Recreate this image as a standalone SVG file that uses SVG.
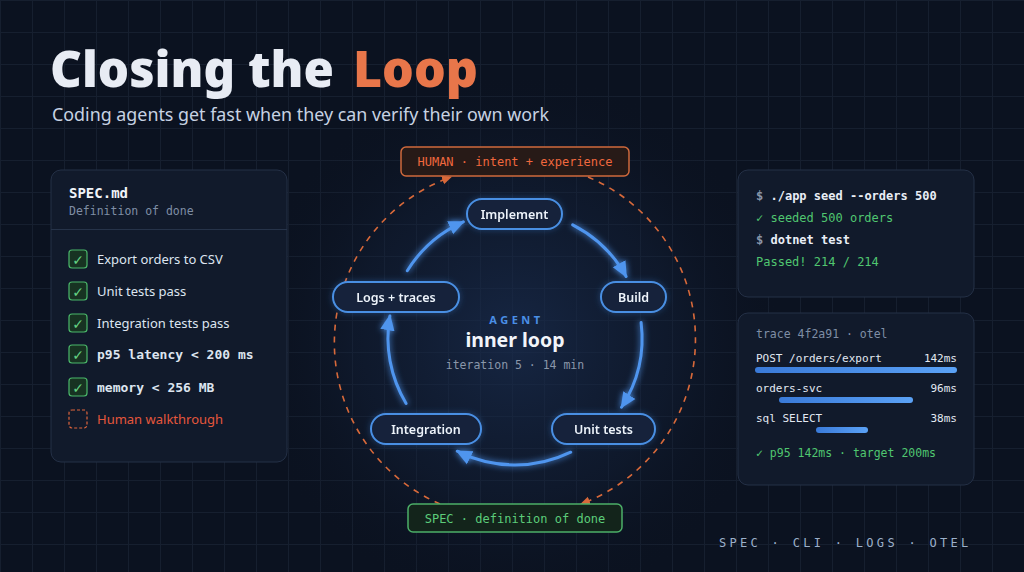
<svg xmlns="http://www.w3.org/2000/svg" width="1024" height="572" viewBox="0 0 1024 572">
<defs>
<style>
.mono{font-family:"DejaVu Sans Mono","Liberation Mono",monospace}
.sans{font-family:"Noto Sans","Open Sans","Liberation Sans",sans-serif}
.panel{fill:#111a2b;stroke:#243046;stroke-width:1}
.pill{fill:#12213b;stroke:#4a8fe3;stroke-width:2}
.plabel{font-family:"Noto Sans","Open Sans",sans-serif;font-size:12.5px;font-weight:600;fill:#eef3fa;text-anchor:middle}
.flow{fill:none;stroke:#4f95ee;stroke-width:3;stroke-linecap:round}
.hl{fill:none;stroke:#d8693a;stroke-width:1.6;stroke-dasharray:6 6}
.chk{fill:#173322;stroke:#4bb86a;stroke-width:1.2}
.tick{font-family:"DejaVu Sans","Noto Sans",sans-serif;font-size:14px;font-weight:bold;fill:#63d183;text-anchor:middle}
.item{font-family:"Noto Sans","Open Sans",sans-serif;font-size:13px;fill:#dde5f0}
.itemm{font-family:"DejaVu Sans Mono","Liberation Mono",monospace;font-size:13px;font-weight:bold;fill:#dde5f0}
.term{font-family:"DejaVu Sans Mono","Liberation Mono",monospace;font-size:12px;font-weight:bold;fill:#e9eef6}
.green{fill:#50c670}
.trow{font-family:"DejaVu Sans Mono","Liberation Mono",monospace;font-size:11px;fill:#e3e9f2}
</style>
<pattern id="grid" width="32" height="32" patternUnits="userSpaceOnUse">
<path d="M0 0.5H32M0.5 0V32" stroke="#161f2f" stroke-width="1" fill="none"/>
</pattern>
<radialGradient id="glowbg" cx="515" cy="340" r="270" gradientUnits="userSpaceOnUse">
<stop offset="0" stop-color="#1a2d4f" stop-opacity="0.75"/>
<stop offset="0.6" stop-color="#15243f" stop-opacity="0.35"/>
<stop offset="1" stop-color="#0b1220" stop-opacity="0"/>
</radialGradient>
<linearGradient id="bar" x1="0" y1="0" x2="1" y2="0">
<stop offset="0" stop-color="#3a7ad8"/>
<stop offset="1" stop-color="#5ba2f6"/>
</linearGradient>
<filter id="glow" x="-30%" y="-30%" width="160%" height="160%">
<feGaussianBlur in="SourceGraphic" stdDeviation="3" result="b"/>
<feMerge><feMergeNode in="b"/><feMergeNode in="SourceGraphic"/></feMerge>
</filter>
<filter id="softglow" x="-20%" y="-40%" width="140%" height="180%">
<feGaussianBlur in="SourceAlpha" stdDeviation="3" result="a"/>
<feFlood flood-color="#3f86e0" flood-opacity="0.35"/>
<feComposite in2="a" operator="in" result="g"/>
<feMerge><feMergeNode in="g"/><feMergeNode in="SourceGraphic"/></feMerge>
</filter>
<marker id="ab" viewBox="0 0 10 10" refX="9" refY="5" markerWidth="16" markerHeight="16" markerUnits="userSpaceOnUse" orient="auto">
<path d="M0,0.5 L10,5 L0,9.5 z" fill="#4f95ee"/>
</marker>
<marker id="ao" viewBox="0 0 10 10" refX="9" refY="5" markerWidth="10" markerHeight="10" markerUnits="userSpaceOnUse" orient="auto">
<path d="M0,0.5 L10,5 L0,9.5 z" fill="#d8693a"/>
</marker>
</defs>

<rect width="1024" height="572" fill="#0b1220"/>
<rect width="1024" height="572" fill="url(#grid)"/>
<rect width="1024" height="572" fill="url(#glowbg)"/>

<g id="title">
<text x="50" y="87" class="sans" font-size="50" font-weight="900" fill="#e8ecf4" textLength="284" lengthAdjust="spacingAndGlyphs">Closing the</text>
<text x="353" y="87" class="sans" font-size="50" font-weight="900" fill="#e8764a" textLength="125" lengthAdjust="spacingAndGlyphs">Loop</text>
<text x="52" y="121" class="sans" font-size="18" fill="#c7d2e3" textLength="497" lengthAdjust="spacingAndGlyphs">Coding agents get fast when they can verify their own work</text>
</g>

<g id="connectors">
<path class="hl" d="M440 504 A176 176 0 0 1 451 177" marker-end="url(#ao)"/>
<path class="hl" d="M588 177 A176 176 0 0 1 581 504" marker-end="url(#ao)"/>
<g filter="url(#glow)">
<path class="flow" d="M407.3 270.7 A127 127 0 0 1 463.3 221.9" marker-end="url(#ab)"/>
<path class="flow" d="M572.7 224.8 A127 127 0 0 1 626.1 276.4" marker-end="url(#ab)"/>
<path class="flow" d="M641.1 322.5 A127 127 0 0 1 621.5 407.2" marker-end="url(#ab)"/>
<path class="flow" d="M570.7 452.2 A127 127 0 0 1 457.3 451.2" marker-end="url(#ab)"/>
<path class="flow" d="M406.1 403.4 A127 127 0 0 1 389.9 315.9" marker-end="url(#ab)"/>
</g>
</g>

<g id="human">
<rect x="401" y="147" width="228" height="29" rx="5" fill="#271a17" stroke="#d0693c" stroke-width="1.5"/>
<text x="515" y="166" class="mono" font-size="12" fill="#f0683e" text-anchor="middle">HUMAN · intent + experience</text>
</g>
<g id="spec">
<rect x="408" y="504" width="214" height="28" rx="5" fill="#13241b" stroke="#4caf68" stroke-width="1.5"/>
<text x="515" y="522.5" class="mono" font-size="12" fill="#5ccc7a" text-anchor="middle">SPEC · definition of done</text>
</g>

<g id="implement" filter="url(#softglow)">
<rect class="pill" x="467" y="199" width="95" height="30" rx="15"/>
<text class="plabel" x="514.5" y="218.5">Implement</text>
</g>
<g id="build" filter="url(#softglow)">
<rect class="pill" x="601" y="282" width="65" height="30" rx="15"/>
<text class="plabel" x="633.5" y="301.5">Build</text>
</g>
<g id="unit-tests" filter="url(#softglow)">
<rect class="pill" x="552" y="414" width="103" height="30" rx="15"/>
<text class="plabel" x="603.5" y="433.5">Unit tests</text>
</g>
<g id="integration" filter="url(#softglow)">
<rect class="pill" x="371" y="414" width="110" height="30" rx="15"/>
<text class="plabel" x="426" y="433.5">Integration</text>
</g>
<g id="logs" filter="url(#softglow)">
<rect class="pill" x="333" y="282" width="126" height="30" rx="15"/>
<text class="plabel" x="396" y="301.5">Logs + traces</text>
</g>

<g id="agent">
<text x="516.5" y="324" class="sans" font-size="11" font-weight="700" fill="#4a8fe6" letter-spacing="3.5" text-anchor="middle">AGENT</text>
<text x="515" y="347" class="sans" font-size="19.5" font-weight="700" fill="#f2f5fa" text-anchor="middle">inner loop</text>
<text x="515" y="369" class="mono" font-size="11.5" fill="#8a97aa" text-anchor="middle">iteration 5 · 14 min</text>
</g>

<g id="spec-panel">
<rect class="panel" x="51" y="170" width="236" height="292" rx="10"/>
<text x="69" y="198" class="mono" font-size="14" font-weight="bold" fill="#f1f4f9">SPEC.md</text>
<text x="69" y="215" class="mono" font-size="11.5" fill="#7f8ea5">Definition of done</text>
<line x1="51" y1="229.5" x2="287" y2="229.5" stroke="#263349" stroke-width="1"/>
<rect class="chk" x="69" y="250" width="18" height="18" rx="3"/><text class="tick" x="78" y="264.5">✓</text>
<text class="item" x="97" y="263.5">Export orders to CSV</text>
<rect class="chk" x="69" y="282" width="18" height="18" rx="3"/><text class="tick" x="78" y="296.5">✓</text>
<text class="item" x="97" y="295.5">Unit tests pass</text>
<rect class="chk" x="69" y="314" width="18" height="18" rx="3"/><text class="tick" x="78" y="328.5">✓</text>
<text class="item" x="97" y="327.5">Integration tests pass</text>
<rect class="chk" x="69" y="345" width="18" height="18" rx="3"/><text class="tick" x="78" y="359.5">✓</text>
<text class="itemm" x="97" y="359">p95 latency &lt; 200 ms</text>
<rect class="chk" x="69" y="378" width="18" height="18" rx="3"/><text class="tick" x="78" y="392.5">✓</text>
<text class="itemm" x="97" y="392">memory &lt; 256 MB</text>
<rect x="69" y="410" width="18" height="18" rx="3" fill="none" stroke="#e0653c" stroke-width="1.2" stroke-dasharray="3 2"/>
<text class="item" x="97" y="423.5" style="fill:#e5573c">Human walkthrough</text>
</g>

<g id="terminal">
<rect class="panel" x="738" y="170" width="236" height="127" rx="10"/>
<text class="term" x="756" y="200"><tspan fill="#8a97aa">$</tspan> ./app seed --orders 500</text>
<text class="term green" x="756" y="222" style="font-weight:normal">✓ seeded 500 orders</text>
<text class="term" x="756" y="244"><tspan fill="#8a97aa">$</tspan> dotnet test</text>
<text class="term green" x="756" y="266" style="font-weight:normal">Passed! 214 / 214</text>
</g>

<g id="trace">
<rect class="panel" x="738" y="313" width="236" height="172" rx="10"/>
<text class="mono" x="756" y="338" font-size="11.5" fill="#7f8ea5">trace 4f2a91 · otel</text>
<text class="trow" x="756" y="362">POST /orders/export</text>
<text class="trow" x="957" y="362" text-anchor="end">142ms</text>
<rect x="755" y="367" width="202" height="6" rx="3" fill="url(#bar)"/>
<text class="trow" x="756" y="392">orders-svc</text>
<text class="trow" x="957" y="392" text-anchor="end">96ms</text>
<rect x="779" y="397" width="134" height="6" rx="3" fill="url(#bar)"/>
<text class="trow" x="756" y="422">sql SELECT</text>
<text class="trow" x="957" y="422" text-anchor="end">38ms</text>
<rect x="816" y="427" width="52" height="6" rx="3" fill="url(#bar)"/>
<text class="mono green" x="756" y="457" font-size="11.5">✓ p95 142ms · target 200ms</text>
</g>

<g id="footer">
<text class="mono" x="719" y="547" font-size="12" fill="#9cb0ca" letter-spacing="3.3">SPEC · CLI · LOGS · OTEL</text>
</g>
</svg>
